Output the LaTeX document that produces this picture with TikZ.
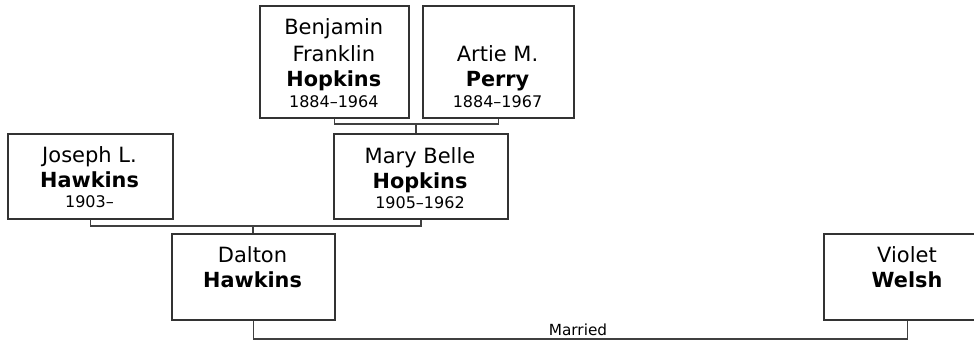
\documentclass[tikz,border=0pt]{standalone}
\usepackage{fontspec}
\setmainfont{DejaVu Sans}
\begin{document}
\begin{tikzpicture}[x=1pt,y=-1pt,
  person/.style={draw=black!80, line width=1.6pt, inner sep=0pt, anchor=north west},
  conn/.style={draw=black!75, line width=1.6pt},
  nm/.style={anchor=base, inner sep=0pt, font=\fontsize{21}{24}\selectfont},
  bnm/.style={anchor=base, inner sep=0pt, font=\fontsize{20.8}{24}\selectfont\bfseries},
  dt/.style={anchor=base, inner sep=0pt, font=\fontsize{16}{18}\selectfont},
  lbl/.style={anchor=base, inner sep=0pt, font=\fontsize{15.3}{18}\selectfont}]
\useasboundingbox (0,0) rectangle (974,343);
\clip (0,0) rectangle (974,343);
% boxes
\node[person, minimum width=149pt, minimum height=112pt] (ben) at (259,5) {};
\node[person, minimum width=151pt, minimum height=112pt] (art) at (422,5) {};
\node[person, minimum width=174pt, minimum height=85pt] (mary) at (333,133) {};
\node[person, minimum width=165pt, minimum height=85pt] (jos) at (7,133) {};
\node[person, minimum width=163pt, minimum height=86pt] (dal) at (171,233) {};
\node[person, minimum width=167pt, minimum height=86pt] (vio) at (823,233) {};
% texts
\node[nm] (benA) at (333.8,34) {Benjamin};
\node[nm] (benB) at (333.8,61) {Franklin};
\node[bnm] (benC) at (333.8,86) {Hopkins};
\node[dt] (benD) at (333.8,107) {1884–1964};
\node[nm] (artA) at (497.5,61) {Artie M.};
\node[bnm] (artB) at (497.5,86) {Perry};
\node[dt] (artC) at (497.5,107) {1884–1967};
\node[nm] (maryA) at (420,163) {Mary Belle};
\node[bnm] (maryB) at (420,188) {Hopkins};
\node[dt] (maryC) at (420,208) {1905–1962};
\node[nm] (josA) at (89.5,162.5) {Joseph L.};
\node[bnm] (josB) at (89.5,187.5) {Hawkins};
\node[dt] (josC) at (89.5,207.5) {1903–};
\node[nm] (dalA) at (252.5,262.5) {Dalton};
\node[bnm] (dalB) at (252.5,287.5) {Hawkins};
\node[nm] (vioA) at (907,262.5) {Violet};
\node[bnm] (vioB) at (907,287.5) {Welsh};
% connectors
\coordinate (j1) at (416,124);
\coordinate (j2) at (253,226);
\coordinate (j3) at (579,339);
\draw[conn] (ben.south) |- (j1) -| (art.south);
\draw[conn] (j1) -- (j1 |- mary.north);
\draw[conn] (jos.south) |- (j2) -| (mary.south);
\draw[conn] (j2) -- (j2 |- dal.north);
\draw[conn] (dal.south) |- (j3) -| (vio.south);
\node[lbl] (mar) at (578,335.7) {Married};
\end{tikzpicture}
\end{document}
